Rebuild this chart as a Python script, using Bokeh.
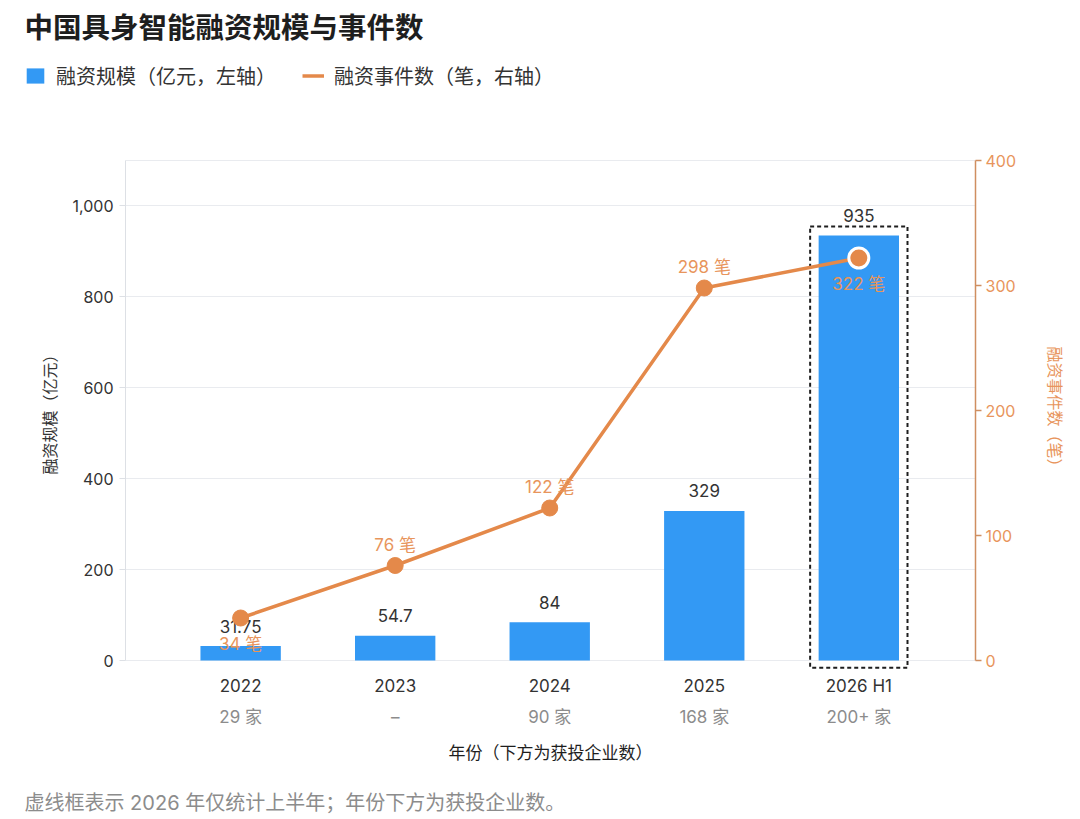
from bokeh.plotting import figure
from bokeh.models import (Range1d, LinearAxis, FixedTicker, Label, Legend, LegendItem,
                          ColumnDataSource, NumeralTickFormatter, Grid)
from bokeh.core.properties import value
from bokeh.embed import file_html
from bokeh.resources import INLINE

# ---------------- data ----------------
years = ["2022", "2023", "2024", "2025", "2026 H1"]
companies = ["29 家", "–", "90 家", "168 家", "200+ 家"]
amount = [31.75, 54.7, 84, 329, 935]
amount_labels = ["31.75", "54.7", "84", "329", "935"]
events = [34, 76, 122, 298, 322]
event_labels = ["34 笔", "76 笔", "122 笔", "298 笔", "322 笔"]
left_ticks = [0, 200, 400, 600, 800, 1000]
right_ticks = [0, 100, 200, 300, 400]
highlight_index = 4

TITLE = "中国具身智能融资规模与事件数"
LEG_BAR = "融资规模（亿元，左轴）"
LEG_LINE = "融资事件数（笔，右轴）"
FOOTNOTE = "虚线框表示 2026 年仅统计上半年；年份下方为获投企业数。"

# ---------------- style ----------------
FONT = "Inter, 'Noto Sans CJK SC'"
BLUE = "#3399F4"
ORANGE = "#E4894A"
ORANGE_TXT = "#E8955C"
ORANGE_AXIS = "#CF8E60"
DARK = "#1E1E1E"
TXT = "#333333"
GRAY = "#8C8C8C"
GRID = "#E9EBEF"

# ---------------- geometry (page px) ----------------
W, H = 1072, 815
PLOT_L, PLOT_R, PLOT_T, PLOT_B = 125, 975, 160, 660   # plotting area
Y_MAX = 1100
EV_MAX = 400
N = len(years)
DX = (PLOT_R - PLOT_L) / (N + 0.5)          # px per category
X0 = PLOT_L + 0.745 * DX                    # px of first category
KY = (PLOT_B - PLOT_T) / Y_MAX              # px per unit on left axis

def xdata(px):
    return (px - X0) / DX

def ydata(py):
    return (PLOT_B - py) / KY

x_start, x_end = xdata(0), xdata(W)
y_start, y_end = ydata(H), ydata(0)
ev_scale = EV_MAX / Y_MAX
plot_left_x, plot_right_x = xdata(PLOT_L), xdata(PLOT_R)

xs = list(range(N))
p = figure(width=W, height=H,
           x_range=Range1d(x_start, x_end), y_range=Range1d(y_start, y_end),
           output_backend="svg", toolbar_location=None, min_border=0)
p.extra_y_ranges = {"ev": Range1d(y_start * ev_scale, y_end * ev_scale)}
p.outline_line_color = None
p.xgrid.visible = False

# horizontal grid restricted to the plotting area
grid_ticks = left_ticks + [Y_MAX]
yg = p.ygrid[0]
if "cross_bounds" in Grid.properties():
    yg.ticker = FixedTicker(ticks=grid_ticks)
    yg.grid_line_color = GRID
    yg.cross_bounds = (plot_left_x, plot_right_x)
else:
    yg.visible = False
    p.segment(x0=[plot_left_x] * len(grid_ticks), x1=[plot_right_x] * len(grid_ticks),
              y0=grid_ticks, y1=grid_ticks, line_color=GRID, line_width=1)

# left axis
ya = p.yaxis[0]
ya.fixed_location = plot_left_x
ya.ticker = FixedTicker(ticks=left_ticks)
ya.formatter = NumeralTickFormatter(format="0,0")
ya.bounds = (0, Y_MAX)
ya.axis_line_color = "#DDE0E5"
ya.major_tick_line_color = "#DDE0E5"
ya.major_tick_out = 6
ya.major_tick_in = 0
ya.minor_tick_line_color = None
ya.major_label_text_font = FONT
ya.major_label_text_font_size = "16px"
ya.major_label_text_color = TXT
ya.major_label_standoff = 6
ya.axis_label = "融资规模（亿元）"
ya.axis_label_text_font = FONT
ya.axis_label_text_font_size = "16px"
ya.axis_label_text_font_style = "normal"
ya.axis_label_text_color = TXT
ya.axis_label_standoff = 10

# right axis
ra = LinearAxis(y_range_name="ev", ticker=FixedTicker(ticks=right_ticks), bounds=(0, EV_MAX),
                fixed_location=plot_right_x)
ra.axis_line_color = ORANGE_AXIS
ra.axis_line_width = 1.5
ra.major_tick_line_color = ORANGE_AXIS
ra.major_tick_line_width = 1.5
ra.major_tick_out = 6
ra.major_tick_in = 0
ra.minor_tick_line_color = None
ra.major_label_text_font = FONT
ra.major_label_text_font_size = "16px"
ra.major_label_text_color = ORANGE_TXT
ra.major_label_standoff = 4
ra.axis_label = "融资事件数（笔）"
ra.axis_label_text_font = FONT
ra.axis_label_text_font_size = "16px"
ra.axis_label_text_font_style = "normal"
ra.axis_label_text_color = ORANGE_TXT
ra.axis_label_standoff = 26
p.add_layout(ra, "right")

# bottom axes: years, then company counts
xa = p.xaxis[0]
xa.fixed_location = 0
xa.ticker = FixedTicker(ticks=xs)
xa.major_label_overrides = {i: y for i, y in zip(xs, years)}
xa.axis_line_color = None
xa.major_tick_line_color = None
xa.minor_tick_line_color = None
xa.major_label_text_font = FONT
xa.major_label_text_font_size = "17px"
xa.major_label_text_color = TXT
xa.major_label_standoff = 9

ca = LinearAxis(ticker=FixedTicker(ticks=xs), fixed_location=0,
                bounds=(plot_left_x, plot_right_x))
ca.major_label_overrides = {i: c for i, c in zip(xs, companies)}
ca.axis_line_color = None
ca.major_tick_line_color = None
ca.minor_tick_line_color = None
ca.major_label_text_font = FONT
ca.major_label_text_font_size = "17px"
ca.major_label_text_color = GRAY
ca.major_label_standoff = 40
ca.axis_label = "年份（下方为获投企业数）"
ca.axis_label_text_font = FONT
ca.axis_label_text_font_size = "17px"
ca.axis_label_text_font_style = "normal"
ca.axis_label_text_color = DARK
ca.axis_label_standoff = 13
p.add_layout(ca, "below")

# bars
bsrc = ColumnDataSource(dict(x=xs, top=amount, label=amount_labels))
bars = p.vbar(x="x", top="top", bottom=0, width=0.52, source=bsrc,
              fill_color=BLUE, line_color=None)
p.text(x="x", y="top", text="label", source=bsrc, text_font=value(FONT),
       text_font_size="17px", text_color=TXT, text_align="center",
       text_baseline="middle", y_offset=-20)

# highlight box around the half-year bar
p.quad(left=[xs[highlight_index] - 0.315], right=[xs[highlight_index] + 0.315],
       top=[amount[highlight_index] + 20], bottom=[-16],
       fill_alpha=0, line_color=DARK, line_width=2, line_dash="4 3")

# line with markers
side = ["below", "above", "above", "above", "below"]
esrc = ColumnDataSource(dict(x=xs, y=events, label=event_labels,
                             off=[26 if s == "below" else -21 for s in side]))
line = p.line(x="x", y="y", source=esrc, y_range_name="ev", line_color=ORANGE, line_width=3.5)
p.scatter(x=xs[:highlight_index], y=events[:highlight_index], y_range_name="ev",
          size=16, fill_color=ORANGE, line_color=ORANGE)
p.scatter(x=[xs[highlight_index]], y=[events[highlight_index]], y_range_name="ev",
          size=20, fill_color=ORANGE, line_color="white", line_width=3)
p.text(x="x", y="y", text="label", source=esrc, y_range_name="ev", text_font=value(FONT),
       text_font_size="17px", text_color=ORANGE_TXT, text_align="center",
       text_baseline="middle", y_offset="off")

# ---------------- title, legend, footnote ----------------
TEXT_X = 24
p.add_layout(Label(x=TEXT_X, y=H - 27, x_units="screen", y_units="screen",
                   text=TITLE, text_font=FONT, text_font_size="28.5px",
                   text_font_style="bold", text_color=DARK,
                   text_baseline="middle", text_align="left"))
legend = Legend(items=[LegendItem(label=LEG_BAR, renderers=[bars]),
                       LegendItem(label=LEG_LINE, renderers=[line])],
                location=(TEXT_X, H - 90), orientation="horizontal",
                label_text_font=FONT, label_text_font_size="20px", label_text_color=TXT,
                glyph_width=22, glyph_height=19, label_standoff=10, spacing=26,
                padding=0, margin=0, border_line_color=None, background_fill_alpha=0)
p.add_layout(legend, "center")
p.add_layout(Label(x=TEXT_X, y=H - 802, x_units="screen", y_units="screen",
                   text=FOOTNOTE, text_font=FONT, text_font_size="20px", text_color=GRAY,
                   text_baseline="middle", text_align="left"))

open("out.html", "w").write(file_html(p, INLINE))
